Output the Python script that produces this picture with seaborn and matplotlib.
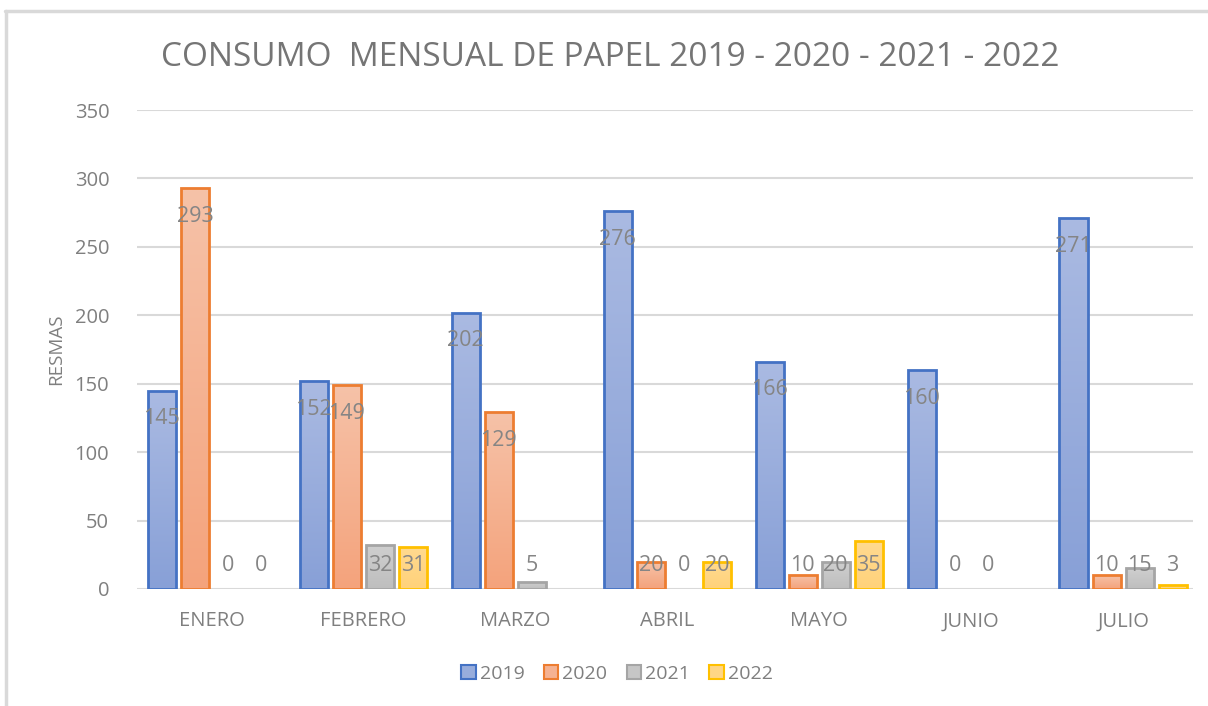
import numpy as np
import pandas as pd
import matplotlib
matplotlib.use("Agg")
import matplotlib.pyplot as plt
import seaborn as sns
from matplotlib.patches import Patch
from matplotlib.lines import Line2D
from matplotlib.colors import to_rgb

months = ["ENERO", "FEBRERO", "MARZO", "ABRIL", "MAYO", "JUNIO", "JULIO"]
years = ["2019", "2020", "2021", "2022"]
v2019 = [145, 152, 202, 276, 166, 160, 271]
v2020 = [293, 149, 129, 20, 10, 0, 10]
v2021 = [0, 32, 5, 0, 20, 0, 15]
v2022 = [0, 31, np.nan, 20, 35, np.nan, 3]
yticks = [0, 50, 100, 150, 200, 250, 300, 350]

rows = []
for yr, vals in zip(years, [v2019, v2020, v2021, v2022]):
    for m, v in zip(months, vals):
        rows.append({"mes": m, "anio": yr, "valor": v})
df = pd.DataFrame(rows)

edge_cols = {"2019": "#4472C4", "2020": "#ED7D31", "2021": "#A5A5A5", "2022": "#FFC000"}
top_cols = {"2019": "#AABAE2", "2020": "#F6C2A8", "2021": "#CFCFCF", "2022": "#FFDA90"}
bot_cols = {"2019": "#88A0D7", "2020": "#F4A37C", "2021": "#BEBEBE", "2022": "#FFD27A"}
mid_cols = {"2019": "#98ADDC", "2020": "#F5B292", "2021": "#C6C6C6", "2022": "#FFD685"}

sns.set_theme(style="white")
plt.rcParams["font.family"] = ["Open Sans", "DejaVu Sans"]

fig = plt.figure(figsize=(12.08, 7.06), dpi=100)
ax = fig.add_axes([137/1208, 1-589/706, (1193-137)/1208, (589-110)/706])

sns.barplot(data=df, x="mes", y="valor", hue="anio", order=months, hue_order=years,
            palette=[mid_cols[y] for y in years], width=0.87, gap=0.15,
            ax=ax, legend=False, errorbar=None, zorder=3)

ax.set_ylim(0, 350)
ax.set_xlim(-0.49, 6.46)
ax.set_yticks(yticks)
ax.yaxis.grid(True, color="#D9D9D9", linewidth=1.5, zorder=0)
ax.set_axisbelow(True)
for s in ax.spines.values():
    s.set_visible(False)

tick_col = "#7F7F7F"
ax.tick_params(axis="y", labelsize=14.5, labelcolor=tick_col, length=0, pad=20)
ax.tick_params(axis="x", labelsize=14.5, labelcolor=tick_col, length=0, pad=16)
ax.set_xlabel("")
ax.set_ylabel("RESMAS", fontsize=13.5, color=tick_col, labelpad=7)

# gradients, edges, labels
for yr, cont in zip(years, ax.containers):
    for p in cont.patches:
        h = p.get_height()
        if np.isnan(h):
            continue
        x0 = p.get_x()
        w = p.get_width()
        if h > 0:
            grad = np.linspace(0, 1, 64)[:, None]
            c1 = np.array(to_rgb(top_cols[yr]))
            c2 = np.array(to_rgb(bot_cols[yr]))
            img = c1[None, None, :] * (1 - grad[:, :, None]) + c2[None, None, :] * grad[:, :, None]
            im = ax.imshow(img, extent=[x0, x0 + w, 0, h], origin="upper", aspect="auto",
                           zorder=3, interpolation="bilinear")
            im.set_clip_path(p)
            p.set_edgecolor(edge_cols[yr])
            p.set_linewidth(2.0)
            p.set_zorder(4)
            p.set_facecolor("none")
        else:
            p.set_linewidth(0)
        ax.text(x0 + w / 2, max(h - 20.5, 17.5), f"{int(h)}", ha="center", va="center",
                fontsize=15.5, color="#858585", zorder=6)

ax.set_xlim(-0.49, 6.46)
ax.set_ylim(0, 350)

fig.text(0.505, 1 - 58/706, "CONSUMO  MENSUAL DE PAPEL 2019 - 2020 - 2021 - 2022",
         ha="center", va="center", fontsize=24, color="#757575")

handles = [Patch(facecolor=mid_cols[y], edgecolor=edge_cols[y], linewidth=1.5) for y in years]
fig.legend(handles, years, loc="center", bbox_to_anchor=(617/1208, 1 - 674/706), ncol=4,
           frameon=False, fontsize=14, handlelength=0.75, handleheight=0.75,
           handletextpad=0.2, columnspacing=1.0, labelcolor=tick_col)

# chart frame lines (top & left)
fig.add_artist(Line2D([5/1208, 1.0], [1 - 11/706, 1 - 11/706], transform=fig.transFigure,
                      color="#D9D9D9", linewidth=2.5))
fig.add_artist(Line2D([6/1208, 6/1208], [0, 1 - 11/706], transform=fig.transFigure,
                      color="#D9D9D9", linewidth=2.5))

fig.savefig("out.png", dpi=100, facecolor="white")
